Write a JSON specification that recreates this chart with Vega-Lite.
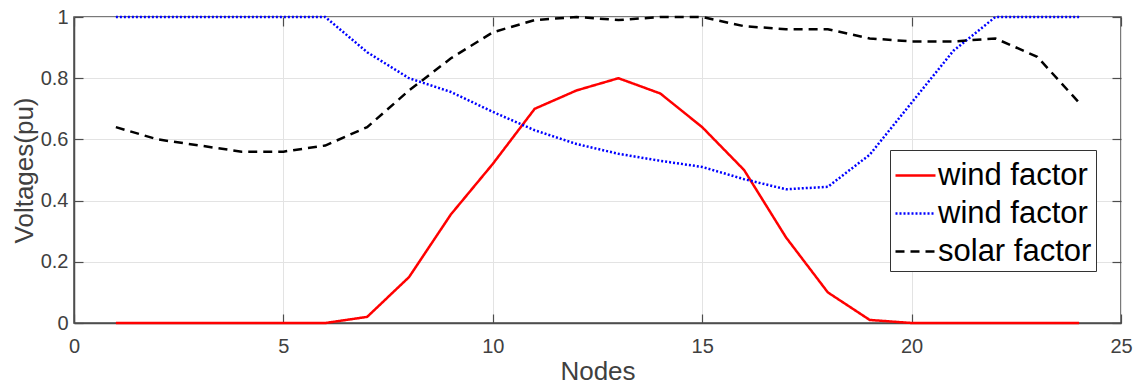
{
  "$schema": "https://vega.github.io/schema/vega-lite/v6.json",
  "width": 1047,
  "height": 306,
  "autosize": {"type": "none"},
  "padding": {"left": 74, "top": 17, "right": 14, "bottom": 62},
  "background": "white",
  "config": {
    "font": "Liberation Sans",
    "view": {"stroke": "#4d4d4d", "strokeWidth": 1.5},
    "axis": {
      "domainColor": "#4d4d4d",
      "domainWidth": 1.5,
      "tickColor": "#4d4d4d",
      "tickSize": -9,
      "tickWidth": 1.2,
      "gridColor": "#e3e3e3",
      "gridWidth": 1,
      "labelColor": "#404040",
      "labelFont": "Liberation Sans",
      "labelFontSize": 20,
      "titleColor": "#404040",
      "titleFont": "Liberation Sans",
      "titleFontSize": 26,
      "titleFontWeight": "normal"
    }
  },
  "data": {
    "values": [
      {"node": 1, "series": "wind factor", "value": 0},
      {"node": 2, "series": "wind factor", "value": 0},
      {"node": 3, "series": "wind factor", "value": 0},
      {"node": 4, "series": "wind factor", "value": 0},
      {"node": 5, "series": "wind factor", "value": 0},
      {"node": 6, "series": "wind factor", "value": 0},
      {"node": 7, "series": "wind factor", "value": 0.02},
      {"node": 8, "series": "wind factor", "value": 0.15},
      {"node": 9, "series": "wind factor", "value": 0.355},
      {"node": 10, "series": "wind factor", "value": 0.52},
      {"node": 11, "series": "wind factor", "value": 0.70},
      {"node": 12, "series": "wind factor", "value": 0.76},
      {"node": 13, "series": "wind factor", "value": 0.80},
      {"node": 14, "series": "wind factor", "value": 0.75},
      {"node": 15, "series": "wind factor", "value": 0.64},
      {"node": 16, "series": "wind factor", "value": 0.50},
      {"node": 17, "series": "wind factor", "value": 0.28},
      {"node": 18, "series": "wind factor", "value": 0.10},
      {"node": 19, "series": "wind factor", "value": 0.01},
      {"node": 20, "series": "wind factor", "value": 0},
      {"node": 21, "series": "wind factor", "value": 0},
      {"node": 22, "series": "wind factor", "value": 0},
      {"node": 23, "series": "wind factor", "value": 0},
      {"node": 24, "series": "wind factor", "value": 0},
      {"node": 1, "series": "wind factor ", "value": 1},
      {"node": 2, "series": "wind factor ", "value": 1},
      {"node": 3, "series": "wind factor ", "value": 1},
      {"node": 4, "series": "wind factor ", "value": 1},
      {"node": 5, "series": "wind factor ", "value": 1},
      {"node": 6, "series": "wind factor ", "value": 1},
      {"node": 7, "series": "wind factor ", "value": 0.885},
      {"node": 8, "series": "wind factor ", "value": 0.80},
      {"node": 9, "series": "wind factor ", "value": 0.755},
      {"node": 10, "series": "wind factor ", "value": 0.69},
      {"node": 11, "series": "wind factor ", "value": 0.63},
      {"node": 12, "series": "wind factor ", "value": 0.585},
      {"node": 13, "series": "wind factor ", "value": 0.553},
      {"node": 14, "series": "wind factor ", "value": 0.53},
      {"node": 15, "series": "wind factor ", "value": 0.51},
      {"node": 16, "series": "wind factor ", "value": 0.47},
      {"node": 17, "series": "wind factor ", "value": 0.437},
      {"node": 18, "series": "wind factor ", "value": 0.445},
      {"node": 19, "series": "wind factor ", "value": 0.55},
      {"node": 20, "series": "wind factor ", "value": 0.72},
      {"node": 21, "series": "wind factor ", "value": 0.89},
      {"node": 22, "series": "wind factor ", "value": 1},
      {"node": 23, "series": "wind factor ", "value": 1},
      {"node": 24, "series": "wind factor ", "value": 1},
      {"node": 1, "series": "solar factor", "value": 0.64},
      {"node": 2, "series": "solar factor", "value": 0.60},
      {"node": 3, "series": "solar factor", "value": 0.58},
      {"node": 4, "series": "solar factor", "value": 0.56},
      {"node": 5, "series": "solar factor", "value": 0.56},
      {"node": 6, "series": "solar factor", "value": 0.58},
      {"node": 7, "series": "solar factor", "value": 0.64},
      {"node": 8, "series": "solar factor", "value": 0.76},
      {"node": 9, "series": "solar factor", "value": 0.865},
      {"node": 10, "series": "solar factor", "value": 0.95},
      {"node": 11, "series": "solar factor", "value": 0.99},
      {"node": 12, "series": "solar factor", "value": 1.0},
      {"node": 13, "series": "solar factor", "value": 0.99},
      {"node": 14, "series": "solar factor", "value": 1.0},
      {"node": 15, "series": "solar factor", "value": 1.0},
      {"node": 16, "series": "solar factor", "value": 0.97},
      {"node": 17, "series": "solar factor", "value": 0.96},
      {"node": 18, "series": "solar factor", "value": 0.96},
      {"node": 19, "series": "solar factor", "value": 0.93},
      {"node": 20, "series": "solar factor", "value": 0.92},
      {"node": 21, "series": "solar factor", "value": 0.92},
      {"node": 22, "series": "solar factor", "value": 0.93},
      {"node": 23, "series": "solar factor", "value": 0.87},
      {"node": 24, "series": "solar factor", "value": 0.72}
    ]
  },
  "layer": [
    {
      "mark": {"type": "line", "strokeWidth": 2.5, "clip": false},
      "encoding": {
        "x": {
          "field": "node",
          "type": "quantitative",
          "title": "Nodes",
          "scale": {"domain": [0, 25], "nice": false, "zero": false},
          "axis": {"values": [0, 5, 10, 15, 20, 25], "labelPadding": 22, "titlePadding": 2, "labelFlush": false}
        },
        "y": {
          "field": "value",
          "type": "quantitative",
          "title": "Voltages(pu)",
          "scale": {"domain": [0, 1], "nice": false},
          "axis": {"values": [0, 0.2, 0.4, 0.6, 0.8, 1], "labelExpr": "format(datum.value, '~g')", "labelPadding": 15, "titlePadding": 3, "labelFlush": false}
        },
        "order": {"field": "node"},
        "color": {
          "field": "series",
          "type": "nominal",
          "title": null,
          "scale": {"domain": ["wind factor", "wind factor ", "solar factor"], "range": ["#ff0000", "#0000ff", "#000000"]},
          "legend": {
            "orient": "none",
            "legendX": 816,
            "legendY": 133,
            "direction": "vertical",
            "symbolType": "stroke",
            "symbolSize": 1600,
            "symbolStrokeWidth": 2.5,
            "labelFontSize": 31,
            "labelFont": "Liberation Sans",
            "labelColor": "#000000",
            "labelOffset": 1,
            "labelLimit": 300,
            "rowPadding": 1,
            "padding": 4,
            "strokeColor": "#333333",
            "fillColor": "#ffffff"
          }
        },
        "strokeDash": {
          "field": "series",
          "type": "nominal",
          "title": null,
          "scale": {"domain": ["wind factor", "wind factor ", "solar factor"], "range": [[1, 0], [2, 2], [9, 6]]}
        }
      }
    },
    {
      "mark": {"type": "line", "opacity": 0},
      "encoding": {
        "x": {
          "field": "node",
          "type": "quantitative",
          "axis": {"orient": "top", "values": [0, 5, 10, 15, 20, 25], "labels": false, "grid": false, "domain": false, "title": null}
        },
        "y": {
          "field": "value",
          "type": "quantitative",
          "axis": {"orient": "right", "values": [0, 0.2, 0.4, 0.6, 0.8, 1], "labels": false, "grid": false, "domain": false, "title": null}
        },
        "detail": {"field": "series"},
        "order": {"field": "node"}
      }
    }
  ],
  "resolve": {"axis": {"x": "independent", "y": "independent"}}
}
